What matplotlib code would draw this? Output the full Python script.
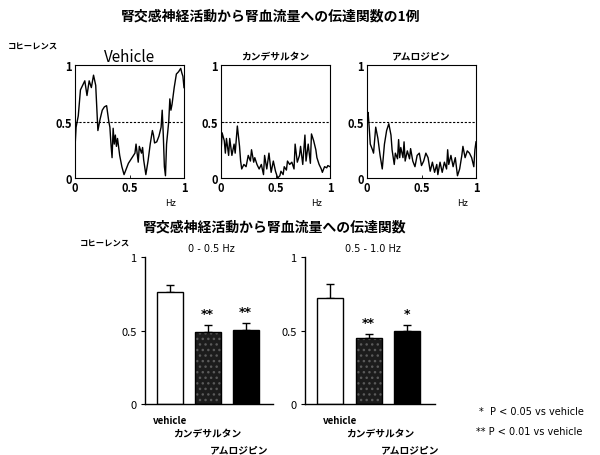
import numpy as np
import matplotlib.pyplot as plt

plt.rcParams['font.family'] = ['Noto Sans CJK JP', 'DejaVu Sans']

# coherence spectra, 0-1 Hz
veh_hz = [0.00, 0.01, 0.03, 0.05, 0.07, 0.09, 0.11, 0.13, 0.15, 0.17, 0.19, 0.21, 0.23, 0.25,
          0.27, 0.29, 0.31, 0.32, 0.33, 0.34, 0.35, 0.36, 0.37, 0.38, 0.39, 0.41, 0.43, 0.45,
          0.47, 0.49, 0.51, 0.53, 0.55, 0.56, 0.58, 0.59, 0.61, 0.62, 0.63, 0.65, 0.67, 0.69,
          0.71, 0.72, 0.73, 0.75, 0.77, 0.79, 0.80, 0.81, 0.82, 0.83, 0.84, 0.86, 0.87, 0.88,
          0.89, 0.91, 0.93, 0.95, 0.97, 0.98, 0.99, 1.00]
veh_coh = [0.27, 0.45, 0.55, 0.78, 0.82, 0.86, 0.73, 0.86, 0.80, 0.91, 0.82, 0.42, 0.52, 0.60,
           0.63, 0.64, 0.50, 0.45, 0.30, 0.18, 0.44, 0.30, 0.38, 0.28, 0.35, 0.20, 0.10, 0.03,
           0.08, 0.13, 0.16, 0.19, 0.22, 0.30, 0.14, 0.28, 0.22, 0.27, 0.16, 0.03, 0.15, 0.30,
           0.42, 0.38, 0.31, 0.32, 0.37, 0.45, 0.60, 0.38, 0.10, 0.02, 0.30, 0.50, 0.70, 0.60,
           0.65, 0.80, 0.92, 0.94, 0.97, 0.93, 0.90, 0.80]

can_hz = [0.00, 0.01, 0.03, 0.04, 0.05, 0.07, 0.08, 0.10, 0.12, 0.13, 0.15, 0.17, 0.18, 0.19,
          0.21, 0.23, 0.25, 0.27, 0.28, 0.30, 0.31, 0.33, 0.35, 0.37, 0.39, 0.40, 0.42, 0.44,
          0.46, 0.48, 0.50, 0.52, 0.54, 0.55, 0.57, 0.58, 0.60, 0.61, 0.63, 0.65, 0.67, 0.68,
          0.70, 0.72, 0.73, 0.75, 0.77, 0.78, 0.80, 0.82, 0.83, 0.85, 0.87, 0.88, 0.90, 0.92,
          0.93, 0.95, 0.97, 0.98, 1.00]
can_coh = [0.22, 0.40, 0.33, 0.22, 0.35, 0.20, 0.35, 0.20, 0.30, 0.22, 0.46, 0.28, 0.15, 0.08,
           0.12, 0.10, 0.20, 0.15, 0.25, 0.14, 0.18, 0.12, 0.08, 0.12, 0.03, 0.20, 0.08, 0.22,
           0.05, 0.15, 0.06, 0.00, 0.02, 0.06, 0.03, 0.10, 0.07, 0.15, 0.12, 0.14, 0.08, 0.30,
           0.14, 0.20, 0.28, 0.12, 0.38, 0.15, 0.30, 0.13, 0.39, 0.33, 0.25, 0.18, 0.12, 0.08,
           0.05, 0.10, 0.09, 0.11, 0.10]

aml_hz = [0.00, 0.01, 0.02, 0.03, 0.05, 0.06, 0.08, 0.10, 0.12, 0.14, 0.16, 0.18, 0.20, 0.22,
          0.23, 0.25, 0.26, 0.28, 0.29, 0.30, 0.31, 0.33, 0.34, 0.35, 0.37, 0.39, 0.40, 0.42,
          0.44, 0.46, 0.48, 0.50, 0.52, 0.54, 0.56, 0.58, 0.60, 0.62, 0.64, 0.65, 0.67, 0.69,
          0.71, 0.73, 0.74, 0.75, 0.77, 0.79, 0.81, 0.83, 0.85, 0.87, 0.88, 0.90, 0.92, 0.94,
          0.96, 0.98, 0.99, 1.00]
aml_coh = [0.55, 0.58, 0.45, 0.30, 0.25, 0.22, 0.45, 0.35, 0.20, 0.08, 0.30, 0.42, 0.48, 0.38,
           0.25, 0.12, 0.22, 0.17, 0.34, 0.18, 0.27, 0.18, 0.32, 0.15, 0.24, 0.17, 0.26, 0.15,
           0.10, 0.20, 0.22, 0.11, 0.15, 0.22, 0.18, 0.06, 0.14, 0.05, 0.12, 0.03, 0.14, 0.05,
           0.14, 0.08, 0.25, 0.12, 0.20, 0.10, 0.18, 0.02, 0.08, 0.20, 0.28, 0.18, 0.24, 0.22,
           0.18, 0.10, 0.25, 0.32]

spectra = [
    ("Vehicle", veh_hz, veh_coh),
    ("カンデサルタン", can_hz, can_coh),
    ("アムロジピン", aml_hz, aml_coh),
]

# mean coherence per band
groups = ["vehicle", "カンデサルタン", "アムロジピン"]
low_mean = [0.765, 0.488, 0.503]
low_err = [0.045, 0.049, 0.046]
low_sig = ["", "**", "**"]
high_mean = [0.72, 0.446, 0.50]
high_err = [0.095, 0.032, 0.036]
high_sig = ["", "**", "*"]

fig = plt.figure(figsize=(6, 4.56), dpi=100)

def fx(px):
    return px / 600

def fy(py):
    return 1 - py / 456

fig.text(fx(271), fy(17), "腎交感神経活動から腎血流量への伝達関数の1例",
         ha='center', va='center', fontsize=10, fontweight='bold')
fig.text(fx(8), fy(47), "コヒーレンス", ha='left', va='center', fontsize=6, fontweight='bold')

top_left = [75, 221, 367]
for (name, hz, coh), left in zip(spectra, top_left):
    ax = fig.add_axes([fx(left), fy(179), 109 / 600, 113 / 456])
    ax.plot(hz, coh, color='black', lw=1.0)
    ax.axhline(0.5, color='black', lw=0.8, ls=(0, (2, 1.5)))
    ax.set_xlim(0, 1)
    ax.set_ylim(0, 1)
    ax.set_xticks([0, 0.5, 1], ["0", "0.5", "1"])
    ax.set_yticks([0, 0.5, 1], ["0", "0.5", "1"])
    ax.tick_params(direction='in', length=2, width=0.6, labelsize=8, pad=2)
    for lab in ax.get_xticklabels() + ax.get_yticklabels():
        lab.set_fontweight('bold')
    for sp in ax.spines.values():
        sp.set_linewidth(0.8)
    if name == "Vehicle":
        ax.set_title(name, fontsize=11, pad=3)
    else:
        ax.set_title(name, fontsize=7, fontweight='bold', pad=5)
    ax.text(0.88, -0.22, "Hz", transform=ax.transAxes, ha='center', va='center',
            fontsize=6.5)

fig.text(fx(275), fy(228), "腎交感神経活動から腎血流量への伝達関数",
         ha='center', va='center', fontsize=10, fontweight='bold')
fig.text(fx(80), fy(244), "コヒーレンス", ha='left', va='center', fontsize=6, fontweight='bold')

# label offsets (in bar units) for the staggered group names
bands = [
    ("0 - 0.5 Hz", low_mean, low_err, low_sig, 145, 128, [0.0, 1.0, 1.84]),
    ("0.5 - 1.0 Hz", high_mean, high_err, high_sig, 305, 130, [0.25, 1.3, 2.08]),
]
colors = ['white', '#1c1c1c', 'black']
x = np.arange(len(groups))
for band, mean, err, sig, left, width, lab_x in bands:
    ax = fig.add_axes([fx(left), fy(405), width / 600, 147 / 456])
    for i in range(len(groups)):
        if i == 1:
            # stippled fill
            ax.bar(x[i], mean[i], width=0.68, color=colors[i], hatch='...',
                   edgecolor='#5a5a5a', linewidth=0, zorder=2)
            ax.bar(x[i], mean[i], width=0.68, fill=False, edgecolor='black',
                   linewidth=1.0, zorder=3)
        else:
            ax.bar(x[i], mean[i], width=0.68, color=colors[i], edgecolor='black',
                   linewidth=1.0, zorder=2)
        ax.errorbar(x[i], mean[i], yerr=[[0], [err[i]]], color='black', lw=1.0,
                    capsize=3, capthick=1.0, zorder=1)
        if sig[i]:
            ax.text(x[i], mean[i] + err[i] + 0.035, sig[i], ha='center', va='bottom',
                    fontsize=9, fontweight='bold', family='DejaVu Sans')
    ax.set_xlim(-0.65, 2.72)
    ax.set_ylim(0, 1)
    ax.set_yticks([0, 0.5, 1], ["0", "0.5", "1"])
    ax.set_xticks([])
    ax.tick_params(axis='y', direction='out', length=3, width=0.8, labelsize=8, pad=3)
    ax.spines['top'].set_visible(False)
    ax.spines['right'].set_visible(False)
    ax.spines['left'].set_linewidth(1.0)
    ax.spines['bottom'].set_linewidth(1.0)
    ax.text(0.52, 1.03, band, transform=ax.transAxes, ha='center', va='bottom',
            fontsize=7, family='DejaVu Sans')
    for g, gx, dy in zip(groups, lab_x, [-0.109, -0.197, -0.306]):
        ax.text(gx, dy, g, transform=ax.get_xaxis_transform(), ha='center',
                va='center', fontsize=7, fontweight='bold')

fig.text(fx(479), fy(412), "*  P < 0.05 vs vehicle", ha='left', va='center', fontsize=7,
         family='DejaVu Sans')
fig.text(fx(476), fy(432), "** P < 0.01 vs vehicle", ha='left', va='center', fontsize=7,
         family='DejaVu Sans')

fig.savefig("out.png", dpi=100)
